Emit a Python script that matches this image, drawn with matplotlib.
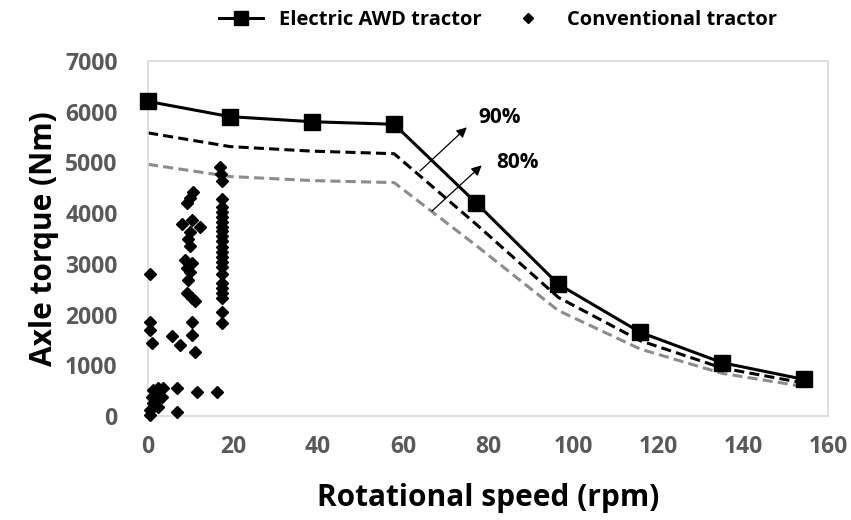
import matplotlib
matplotlib.use("Agg")
import matplotlib.pyplot as plt

# Electric AWD tractor envelope
speed = [0, 19.3, 38.6, 57.9, 77.2, 96.5, 115.8, 135.1, 154.4]
torque_full = [6200, 5900, 5800, 5750, 4200, 2600, 1650, 1050, 720]
torque_90 = [5580, 5310, 5220, 5170, 3780, 2340, 1485, 945, 650]
torque_80 = [4960, 4720, 4640, 4600, 3360, 2080, 1320, 840, 580]

# Conventional tractor measurements
conv_speed = [16.9, 17.1, 17.3,
              17.3, 17.3, 17.3, 17.3, 17.3, 17.3, 17.3, 17.3, 17.3, 17.3, 17.3,
              17.3, 17.3, 17.3, 17.3, 17.3, 17.3, 17.3, 17.3, 17.3, 17.3,
              10.5, 9.9, 9.1, 7.9, 10.3, 12.2, 9.9, 9.5, 9.9,
              8.7, 10.3, 9.1, 9.9, 9.5, 9.1, 10.3, 11.1, 10.3, 10.3,
              5.6, 7.5, 11.1, 0.5, 0.5, 0.5, 0.9,
              6.8, 11.4, 16.2, 0.5, 6.8,
              1.2, 2.4, 3.6, 0.9, 2.0, 3.2, 1.2, 2.4, 0.5]
conv_torque = [4900, 4760, 4630,
               4270, 4110, 4030, 3930, 3830, 3730, 3640, 3540, 3440, 3340, 3240,
               3140, 3040, 2940, 2790, 2630, 2530, 2430, 2330, 2040, 1840,
               4410, 4290, 4190, 3790, 3870, 3730, 3620, 3480, 3350,
               3080, 3020, 2920, 2830, 2690, 2430, 2330, 2260, 1860, 1600,
               1570, 1400, 1270, 2790, 1860, 1700, 1440,
               550, 480, 480, 20, 85,
               510, 550, 550, 380, 350, 380, 250, 180, 120]

xticks = [0, 20, 40, 60, 80, 100, 120, 140, 160]
yticks = [0, 1000, 2000, 3000, 4000, 5000, 6000, 7000]

plt.rcParams['font.family'] = ['Open Sans', 'DejaVu Sans']

fig = plt.figure(figsize=(8.51, 5.20), dpi=100)
ax = fig.add_axes([0.174, 0.2, 0.799, 0.683])

ax.plot(speed, torque_80, color='#8c8c8c', lw=2.2, ls=(0, (3.3, 1.7)), zorder=2)
ax.plot(speed, torque_90, color='black', lw=2.2, ls=(0, (3.3, 1.7)), zorder=2)
ax.plot(speed, torque_full, color='black', lw=2.2, marker='s', markersize=12,
        label='Electric AWD tractor', zorder=3, clip_on=False)
ax.plot(conv_speed, conv_torque, ls='none', marker='D', markersize=6.5,
        color='black', label='Conventional tractor', zorder=4, clip_on=False)

ax.annotate('', xy=(75, 5690), xytext=(64, 4830),
            arrowprops=dict(arrowstyle='-|>', color='black', lw=0.9,
                            mutation_scale=15, shrinkA=0, shrinkB=0))
ax.annotate('', xy=(78.5, 4940), xytext=(66.8, 4040),
            arrowprops=dict(arrowstyle='-|>', color='black', lw=0.9,
                            mutation_scale=15, shrinkA=0, shrinkB=0))
ax.text(82.8, 5880, '90%', fontsize=15, fontweight='bold', ha='center', va='center')
ax.text(87, 5000, '80%', fontsize=15, fontweight='bold', ha='center', va='center')

ax.set_xlim(0, 160)
ax.set_ylim(0, 7000)
ax.set_xticks(xticks)
ax.set_yticks(yticks)
ax.tick_params(axis='y', length=0, labelsize=16.5, labelcolor='#595959', pad=22)
ax.tick_params(axis='x', length=0, labelsize=16.5, labelcolor='#595959', pad=14)
for lab in ax.get_xticklabels() + ax.get_yticklabels():
    lab.set_fontweight('bold')
for s in ax.spines.values():
    s.set_color('#d9d9d9')
    s.set_linewidth(1.2)

ax.set_xlabel('Rotational speed (rpm)', fontsize=21.5, fontweight='bold', labelpad=17)
ax.set_ylabel('Axle torque (Nm)', fontsize=21.5, fontweight='bold', labelpad=4)

fig.legend(loc='upper center', bbox_to_anchor=(0.585, 1.015), ncol=2, frameon=False,
           prop={'weight': 'bold', 'size': 14.5}, handlelength=2.2, columnspacing=1.2,
           markerscale=0.8)

fig.savefig('out.png', dpi=100)
